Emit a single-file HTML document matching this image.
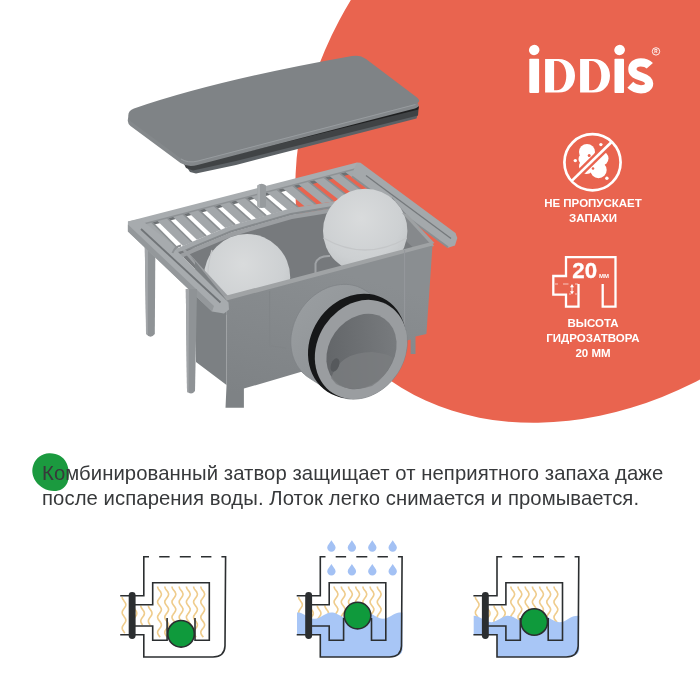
<!DOCTYPE html>
<html><head><meta charset="utf-8">
<style>
html,body{margin:0;padding:0;background:#fff;}
body{width:700px;height:700px;position:relative;overflow:hidden;font-family:"Liberation Sans",sans-serif;}
svg{position:absolute;left:0;top:0;will-change:transform;}
.para{position:absolute;left:42px;color:#37393b;will-change:transform;font-size:20.3px;letter-spacing:0.075px;white-space:nowrap;line-height:25px;}
.lbl{position:absolute;color:#fff;font-weight:bold;font-size:11.5px;will-change:transform;white-space:nowrap;text-align:center;line-height:14.8px;}
</style></head>
<body>
<svg width="700" height="700" viewBox="0 0 700 700">
<ellipse cx="613.3" cy="107.1" rx="274.2" ry="354.4" transform="rotate(45.8 613.3 107.1)" fill="#E9644F"/>
<path d="M49 453.3 C57 453 63.5 456.5 66.5 463 C69.5 469.5 69.5 477 67.5 482.5 C65 488.5 60 491 54 491 C46.5 491 39.5 487 35.5 481 C32 475.5 31.5 469.5 33.5 464.5 C36 458 42 453.5 49 453.3 Z" fill="#1B9A3F"/>

<g fill="#fff">
<ellipse cx="534.2" cy="50" rx="5.3" ry="5.1" transform="rotate(-20 534.2 50)"/><rect x="529.3" y="58.7" width="9.8" height="34.2" rx="0.8"/>
<path d="M545.1 58.9 H558.5 C568.5 58.9 575 66 575 75.7 C575 85.5 568.5 92.6 558.5 92.6 H545.1 Z M554.1 61.1 H556.5 C562.5 61.1 566.3 67.5 566.3 75.7 C566.3 84 562.5 90.3 556.5 90.3 H554.1 Z" fill-rule="evenodd"/>
<path d="M580.1 58.9 H593.5 C603.5 58.9 610 66 610 75.7 C610 85.5 603.5 92.6 593.5 92.6 H580.1 Z M589.1 61.1 H591.5 C597.5 61.1 601.3 67.5 601.3 75.7 C601.3 84 597.5 90.3 591.5 90.3 H589.1 Z" fill-rule="evenodd"/>
<ellipse cx="619.6" cy="50" rx="5.4" ry="5.1" transform="rotate(-20 619.6 50)"/><rect x="614.5" y="58.7" width="9.5" height="34.3" rx="0.8"/>
</g>
<path d="M649.8 65.8 C647.5 63.2 644.3 62.3 640.7 62.3 C635.7 62.3 632.4 65.2 632.4 69.2 C632.4 73.7 636.5 75.2 641 76.6 C646 78.1 649.1 79.7 649.1 83.6 C649.1 87.1 645.6 89.3 641 89.3 C636.8 89.3 633.3 87.8 630.3 84.8" fill="none" stroke="#fff" stroke-width="8.3"/>
<circle cx="656" cy="51.4" r="3.7" fill="none" stroke="#fff" stroke-width="0.9"/>
<text x="656" y="53.2" font-family="Liberation Sans" font-size="4.6" font-weight="bold" fill="#fff" text-anchor="middle">R</text>

<circle cx="592.5" cy="162.3" r="28.1" fill="none" stroke="#fff" stroke-width="2.7"/>
<g fill="#fff">
<circle cx="587" cy="152" r="8"/><circle cx="601.5" cy="158.5" r="7"/><circle cx="598.5" cy="170" r="8.2"/><circle cx="586.5" cy="166.5" r="7.5"/><circle cx="584" cy="159" r="5.5"/><circle cx="594" cy="162" r="7"/>
<circle cx="600.9" cy="144.6" r="1.7"/><circle cx="575.3" cy="160.6" r="1.7"/><circle cx="606.9" cy="178.3" r="1.7"/>
</g>
<circle cx="589.2" cy="155.5" r="1.5" fill="#E9644F"/><circle cx="593" cy="168.5" r="1.3" fill="#E9644F"/>
<clipPath id="cin"><circle cx="592.5" cy="162.3" r="26.7"/></clipPath><line x1="571.5" y1="181.1" x2="611.6" y2="142" stroke="#E9644F" stroke-width="7.5" clip-path="url(#cin)"/>
<line x1="571.5" y1="181.1" x2="611.6" y2="142" stroke="#fff" stroke-width="2.7"/>

<path d="M578.5 284 V306.7 H566 V294.6 H553.3 V276 H566 V257.2 H615.5 V306.7 H602.7 V284" fill="none" stroke="#fff" stroke-width="2.3"/>
<path d="M555 284 H558 M563 284 H568.5 M575 284 H578" stroke="#fff" stroke-width="0.8" opacity="0.8"/>
<path d="M569 294 H571 M575 294 H577" stroke="#fff" stroke-width="0.8" opacity="0.8"/>
<path d="M572 286 V292.5" stroke="#fff" stroke-width="0.9" fill="none"/><path d="M570 287.3 L572 284 L574 287.3 Z M570 291.2 L572 294.5 L574 291.2 Z" fill="#fff"/>
<text x="572.3" y="278" font-family="Liberation Sans" font-weight="bold" font-size="21.8" fill="#fff" stroke="#fff" stroke-width="0.3" textLength="24.8" lengthAdjust="spacingAndGlyphs">20</text>
<text x="599" y="278" font-family="Liberation Sans" font-weight="bold" font-size="5.6" fill="#fff" textLength="10" lengthAdjust="spacingAndGlyphs">ММ</text>

<path d="M186.0 166.0 L236.0 159.0 L415.0 113.0 L417.5 115.0 L416.5 118.5 L236.0 165.0 L196.0 173.5 L190.0 172.0 Z" fill="#5c6165" />
<path d="M183.0 162.0 L236.0 154.0 L416.0 108.0 L418.5 109.5 L418.0 115.5 L236.0 161.0 L193.0 170.5 L186.0 168.0 Z" fill="#404345" />
<path d="M181.0 159.0 L236.0 152.0 L416.0 105.5 L419.0 106.5 L418.5 109.5 L236.0 154.5 L183.0 162.5 Z" fill="#1f2021" />
<path d="M128.3 116.5 Q127.8 110.5 134 108.5 Q217 80 352 56 Q360 54.5 366 59 L417 97.5 Q422 101.5 415.5 104 L198 160.5 Q188 163 181 158.5 L131 121.5 Q128.5 119.5 128.3 116.5 Z" transform="translate(-0.5 4.5)" fill="#84888b"/>
<path d="M128.3 116.5 Q127.8 110.5 134 108.5 Q217 80 352 56 Q360 54.5 366 59 L417 97.5 Q422 101.5 415.5 104 L198 160.5 Q188 163 181 158.5 L131 121.5 Q128.5 119.5 128.3 116.5 Z" fill="#7f8386"/>
<path d="M181 159 Q188 163.5 198 161 L415.5 104.5" fill="none" stroke="#9a9ea1" stroke-width="0.9"/>
<path d="M144.5 228 L155.5 228 L154.8 334 Q150.5 339.5 146.2 334 Z" fill="#8f9396"/>
<path d="M144.5 228 L148 228 L147.8 334.5 Q146.5 335 146 333 Z" fill="#a3a6a9"/>
<path d="M134.0 224.8 L362.0 166.3 L362.0 171.3 L134.0 229.8 Z" fill="#6d7174" />
<path d="M140.7 224.1 L151.1 221.4 L177.8 248.2 L168.9 252.4 Z" fill="#a3a7aa" />
<path d="M151.1 221.4 L177.8 248.2" stroke="#8b8f92" stroke-width="1.6"/>
<path d="M156.4 220.1 L166.8 217.4 L192.1 242.2 L183.0 246.1 Z" fill="#a3a7aa" />
<path d="M166.8 217.4 L192.1 242.2" stroke="#8b8f92" stroke-width="1.6"/>
<path d="M172.1 216.1 L182.5 213.4 L206.2 236.1 L196.9 239.8 Z" fill="#a3a7aa" />
<path d="M182.5 213.4 L206.2 236.1" stroke="#8b8f92" stroke-width="1.6"/>
<path d="M187.8 212.0 L198.2 209.4 L220.3 230.1 L211.3 234.0 Z" fill="#a3a7aa" />
<path d="M198.2 209.4 L220.3 230.1" stroke="#8b8f92" stroke-width="1.6"/>
<path d="M203.5 208.0 L213.9 205.3 L235.2 224.8 L225.3 228.0 Z" fill="#a3a7aa" />
<path d="M213.9 205.3 L235.2 224.8" stroke="#8b8f92" stroke-width="1.6"/>
<path d="M219.2 204.0 L229.6 201.3 L250.8 220.3 L240.6 223.2 Z" fill="#a3a7aa" />
<path d="M229.6 201.3 L250.8 220.3" stroke="#8b8f92" stroke-width="1.6"/>
<path d="M234.9 199.9 L245.3 197.3 L266.4 215.8 L256.2 218.7 Z" fill="#a3a7aa" />
<path d="M245.3 197.3 L266.4 215.8" stroke="#8b8f92" stroke-width="1.6"/>
<path d="M250.6 195.9 L261.0 193.2 L281.9 211.2 L271.8 214.2 Z" fill="#a3a7aa" />
<path d="M261.0 193.2 L281.9 211.2" stroke="#8b8f92" stroke-width="1.6"/>
<path d="M266.3 191.9 L276.7 189.2 L298.4 207.5 L287.4 209.6 Z" fill="#a3a7aa" />
<path d="M276.7 189.2 L298.4 207.5" stroke="#8b8f92" stroke-width="1.6"/>
<path d="M282.0 187.8 L292.4 185.2 L315.8 204.4 L304.5 206.3 Z" fill="#a3a7aa" />
<path d="M292.4 185.2 L315.8 204.4" stroke="#8b8f92" stroke-width="1.6"/>
<path d="M297.7 183.8 L308.1 181.2 L333.2 201.4 L321.9 203.3 Z" fill="#a3a7aa" />
<path d="M308.1 181.2 L333.2 201.4" stroke="#8b8f92" stroke-width="1.6"/>
<path d="M313.4 179.8 L323.8 177.1 L351.1 198.6 L339.7 200.5 Z" fill="#a3a7aa" />
<path d="M323.8 177.1 L351.1 198.6" stroke="#8b8f92" stroke-width="1.6"/>
<path d="M329.1 175.8 L339.5 173.1 L369.0 195.8 L357.3 197.5 Z" fill="#a3a7aa" />
<path d="M339.5 173.1 L369.0 195.8" stroke="#8b8f92" stroke-width="1.6"/>
<path d="M344.8 171.7 L355.2 169.1 L386.7 192.8 L375.3 194.7 Z" fill="#a3a7aa" />
<path d="M355.2 169.1 L386.7 192.8" stroke="#8b8f92" stroke-width="1.6"/>
<path d="M127.9 221.4 L357.0 162.6 L359.0 168.5 L130.0 228.0 Z" fill="#a8acaf" />
<path d="M130 227.5 L359 168" stroke="#8e9295" stroke-width="1.5"/>
<path d="M357.0 162.6 L360.5 162.8 L455.5 233.0 L457.3 238.0 L455.0 245.5 L448.0 247.8 L352.0 177.0 L354.0 169.0 Z" fill="#a4a8ab" />
<path d="M448 247.3 L352 176.5" stroke="#8a8e91" stroke-width="1.8"/>
<path d="M451 238.5 L366 175.5" stroke="#75797c" stroke-width="1.3"/>
<path d="M168.0 252.5 L194.0 241.0 L230.0 226.0 L290.0 208.6 L333.0 201.4 L376.0 194.5 L377.0 201.0 L334.0 207.9 L291.0 215.1 L231.0 232.5 L195.0 247.5 L169.0 259.0 Z" fill="#a3a7aa" />
<path d="M169.0 258.0 L195.0 246.5 L231.0 231.5 L291.0 214.1 L334.0 206.9 L377.0 200.0" fill="none" stroke="#868a8d" stroke-width="2.2"/>
<path d="M257.4 185.5 Q261.7 182 266 185.5 L266 206.5 Q261.7 209.5 257.4 206.5 Z" fill="#979b9e"/>
<path d="M257.4 185.5 L260 184 L260 208 L257.4 206.5 Z" fill="#a9adb0"/>
<path d="M178.0 252.0 L195.0 248.0 L231.0 233.0 L291.0 215.6 L334.0 208.4 L377.0 201.5 L405.0 213.0 L433.0 243.0 L226.0 300.0 Z" fill="#777a7d" />
<path d="M392.0 197.0 L405.0 213.0 L433.0 243.0 L418.0 252.0 L396.0 232.0 Z" fill="#86898c" />
<path d="M169.0 259.0 L195.0 247.5 L231.0 232.5 L291.0 215.1 L334.0 207.9 L377.0 201.0 L378.0 205.0 L335.0 211.9 L292.0 219.1 L232.0 236.5 L196.0 251.5 L170.0 263.0 Z" fill="#9b9ea1" />
<path d="M314.5 276 L314.5 263 Q317 254 330 254.5 L348 256 L348 276 Z" fill="#76797c"/>
<path d="M315.5 275 L315.5 263.5 Q318 255.5 330 256" fill="none" stroke="#a0a3a6" stroke-width="2"/>
<defs><radialGradient id="bg1" cx="0.45" cy="0.35" r="0.75"><stop offset="0" stop-color="#d9dbdc"/><stop offset="0.65" stop-color="#cdd0d2"/><stop offset="1" stop-color="#bdc0c2"/></radialGradient></defs>
<circle cx="247" cy="277.2" r="43.2" fill="url(#bg1)"/>
<path d="M212 250 Q200 290 222 316" fill="none" stroke="#c6c8ca" stroke-width="1.2"/>
<circle cx="365.2" cy="231" r="42.2" fill="url(#bg1)"/>
<path d="M323.5 238 Q365 262 406.8 238" fill="none" stroke="#c4c6c8" stroke-width="1.4"/>
<path d="M182.0 250.0 L186.0 250.0 L229.0 297.0 L225.0 299.5 Z" fill="#9c9fa2" />
<path d="M223.0 296.5 L431.5 242.0 L434.0 246.0 L226.5 301.5 Z" fill="#a0a3a5" />
<path d="M402.0 213.0 L407.0 214.0 L434.5 243.0 L431.0 244.5 Z" fill="#9ea1a3" />
<path d="M190.0 255.0 L226.5 300.0 L226.5 385.0 L196.0 362.0 L195.0 262.0 Z" fill="#7c8083" />
<defs><linearGradient id="ff" gradientUnits="userSpaceOnUse" x1="300" y1="260" x2="260" y2="400"><stop offset="0" stop-color="#8a8e91"/><stop offset="1" stop-color="#7e8285"/></linearGradient></defs>
<path d="M226.5 300.5 L432.5 245.5 L426.4 334.0 L415.5 336.5 L415.5 354.0 L410.6 354.0 L410.6 339.5 L243.9 388.6 L243.9 407.8 L225.5 407.8 L226.5 386.0 Z" fill="url(#ff)" />
<path d="M269.6 291 L269.6 345.7 L286 348" fill="none" stroke="#818588" stroke-width="1.1"/>
<path d="M404.6 250 L404.6 340" stroke="#96999c" stroke-width="1"/>
<defs><linearGradient id="pb" x1="0" y1="0" x2="1" y2="1"><stop offset="0" stop-color="#9b9fa2"/><stop offset="0.55" stop-color="#909497"/><stop offset="1" stop-color="#85898c"/></linearGradient></defs>
<path d="M290.8 341.8 L290.9 338.5 L291.2 335.3 L291.8 332.0 L292.5 328.8 L293.4 325.6 L294.4 322.4 L295.7 319.3 L297.1 316.2 L298.7 313.2 L300.5 310.3 L302.4 307.5 L304.5 304.8 L306.7 302.3 L309.1 299.8 L311.6 297.5 L314.1 295.4 L316.8 293.5 L319.6 291.7 L322.4 290.1 L325.3 288.7 L328.2 287.4 L331.2 286.4 L334.2 285.6 L337.3 285.0 L340.3 284.6 L343.3 284.4 L346.3 284.4 L349.2 284.6 L352.1 285.1 L354.9 285.7 L357.7 286.6 L360.3 287.7 L362.9 288.9 L365.3 290.4 L389.3 305.9 L391.6 307.5 L393.8 309.4 L395.9 311.3 L397.8 313.5 L399.5 315.8 L401.1 318.3 L402.5 320.9 L403.8 323.6 L404.8 326.4 L405.7 329.3 L406.3 332.3 L406.8 335.4 L407.1 338.6 L407.2 341.7 L407.1 345.0 L406.8 348.2 L406.2 351.5 L405.5 354.7 L404.6 357.9 L403.6 361.1 L402.3 364.2 L400.9 367.3 L399.3 370.3 L397.5 373.2 L395.6 376.0 L393.5 378.7 L391.3 381.2 L388.9 383.7 L386.4 386.0 L383.9 388.1 L381.2 390.0 L378.4 391.8 L375.6 393.4 L372.7 394.8 L369.8 396.1 L366.8 397.1 L363.8 397.9 L360.7 398.5 L357.7 398.9 L354.7 399.1 L351.7 399.1 L348.8 398.9 L345.9 398.4 L343.1 397.8 L340.3 396.9 L337.7 395.8 L335.1 394.6 L332.7 393.1 L308.7 377.6 L306.4 376.0 L304.2 374.1 L302.1 372.2 L300.2 370.0 L298.5 367.7 L296.9 365.2 L295.5 362.6 L294.2 359.9 L293.2 357.1 L292.3 354.2 L291.7 351.2 L291.2 348.1 L290.9 344.9 Z" fill="url(#pb)" stroke="#7f8386" stroke-width="0.8"/>
<ellipse cx="357" cy="346" rx="54.5" ry="46.5" transform="rotate(-57 357 346)" fill="#161718"/>
<ellipse cx="361" cy="349.5" rx="52" ry="43.5" transform="rotate(-57 361 349.5)" fill="#9a9da0"/>
<defs><linearGradient id="ph" x1="0" y1="0" x2="1" y2="1"><stop offset="0" stop-color="#5f6265"/><stop offset="0.5" stop-color="#6d7073"/><stop offset="1" stop-color="#7c7f82"/></linearGradient></defs>
<ellipse cx="361.5" cy="351.5" rx="40" ry="32.5" transform="rotate(-55 361.5 351.5)" fill="url(#ph)"/>
<path d="M331 378 Q340 352 372 352 Q390 354 393 358 Q388 376 372 386 Q352 393 336 384 Z" fill="#7a7d80" opacity="0.8"/>
<ellipse cx="335" cy="365" rx="4" ry="7" transform="rotate(20 335 365)" fill="#56595c"/>
<path d="M127.9 221.4 L140.0 219.0 L172.0 244.0 L175.0 249.0 L228.5 302.5 L229.0 309.5 L224.0 313.5 L212.0 311.5 L127.9 231.5 Z" fill="#a7abae" />
<path d="M172.5 253 Q175 246.5 181 245.5" stroke="#8c9093" stroke-width="2" fill="none"/>
<path d="M127.9 224.5 L127.9 231.5 L212.0 311.5 L214.0 306.0 Z" fill="#94989b" />
<path d="M141 229 L220.5 302.5" stroke="#707477" stroke-width="1.8"/>
<path d="M185.8 289 L197 289 L195 391 Q191 396 187 391 Z" fill="#8f9396"/>
<path d="M185.8 289 L189 289 L188.5 393 Q187.3 393 187 391 Z" fill="#a3a6a9"/>
<g transform="translate(0.0 0)">
<path d="M157.6 586.6 C157.6 586.8 157.7 587.5 157.9 587.9 C158.0 588.3 158.3 588.7 158.5 589.1 C158.8 589.6 159.2 590.0 159.5 590.4 C159.8 590.9 160.2 591.3 160.5 591.7 C160.7 592.1 161.0 592.6 161.1 593.0 C161.3 593.4 161.4 593.8 161.4 594.2 C161.4 594.7 161.3 595.1 161.1 595.5 C161.0 596.0 160.7 596.4 160.4 596.8 C160.2 597.2 159.8 597.7 159.5 598.1 C159.2 598.5 158.8 598.9 158.6 599.4 C158.3 599.8 158.0 600.2 157.9 600.6 C157.7 601.0 157.6 601.5 157.6 601.9 C157.6 602.3 157.7 602.8 157.9 603.2 C158.0 603.6 158.3 604.0 158.6 604.5 C158.8 604.9 159.2 605.3 159.5 605.7 C159.8 606.1 160.2 606.6 160.4 607.0 C160.7 607.4 161.0 607.8 161.1 608.3 C161.3 608.7 161.4 609.1 161.4 609.6 C161.4 610.0 161.3 610.4 161.1 610.8 C161.0 611.2 160.7 611.7 160.4 612.1 C160.2 612.5 159.8 613.0 159.5 613.4 C159.2 613.8 158.8 614.2 158.6 614.6 C158.3 615.1 158.0 615.5 157.9 615.9 C157.7 616.4 157.6 616.8 157.6 617.2 C157.6 617.6 157.7 618.1 157.9 618.5 C158.0 618.9 158.3 619.3 158.5 619.8 C158.8 620.2 159.2 620.6 159.5 621.0 C159.8 621.5 160.2 621.9 160.5 622.3 C160.7 622.7 161.0 623.2 161.1 623.6 C161.3 624.0 161.4 624.4 161.4 624.9 C161.4 625.3 161.3 625.7 161.1 626.1 C161.0 626.5 160.7 627.0 160.5 627.4 C160.2 627.8 159.8 628.2 159.5 628.7 C159.2 629.1 158.8 629.5 158.5 630.0 C158.3 630.4 158.0 630.8 157.9 631.2 C157.7 631.6 157.6 632.1 157.6 632.5 C157.6 632.9 157.7 633.3 157.9 633.8 C158.0 634.2 158.3 634.6 158.6 635.1 C158.8 635.5 159.2 636.0 159.5 636.3 C159.8 636.7 160.1 637.1 160.2 637.2 M164.8 586.6 C164.8 586.8 164.9 587.5 165.1 587.9 C165.2 588.3 165.5 588.7 165.7 589.1 C166.0 589.6 166.4 590.0 166.7 590.4 C167.0 590.9 167.4 591.3 167.7 591.7 C167.9 592.1 168.2 592.6 168.3 593.0 C168.5 593.4 168.6 593.8 168.6 594.2 C168.6 594.7 168.5 595.1 168.3 595.5 C168.2 596.0 167.9 596.4 167.6 596.8 C167.4 597.2 167.0 597.7 166.7 598.1 C166.4 598.5 166.0 598.9 165.8 599.4 C165.5 599.8 165.2 600.2 165.1 600.6 C164.9 601.0 164.8 601.5 164.8 601.9 C164.8 602.3 164.9 602.8 165.1 603.2 C165.2 603.6 165.5 604.0 165.8 604.5 C166.0 604.9 166.4 605.3 166.7 605.7 C167.0 606.1 167.4 606.6 167.6 607.0 C167.9 607.4 168.2 607.8 168.3 608.3 C168.5 608.7 168.6 609.1 168.6 609.6 C168.6 610.0 168.5 610.4 168.3 610.8 C168.2 611.2 167.9 611.7 167.6 612.1 C167.4 612.5 167.0 613.0 166.7 613.4 C166.4 613.8 166.0 614.2 165.8 614.6 C165.5 615.1 165.2 615.5 165.1 615.9 C164.9 616.4 164.8 616.8 164.8 617.2 C164.8 617.6 164.9 618.1 165.1 618.5 C165.2 618.9 165.5 619.3 165.7 619.8 C166.0 620.2 166.4 620.6 166.7 621.0 C167.0 621.5 167.4 621.9 167.7 622.3 C167.9 622.7 168.2 623.2 168.3 623.6 C168.5 624.0 168.6 624.4 168.6 624.9 C168.6 625.3 168.5 625.7 168.3 626.1 C168.2 626.5 167.9 627.0 167.7 627.4 C167.4 627.8 167.0 628.2 166.7 628.7 C166.4 629.1 166.0 629.5 165.7 630.0 C165.5 630.4 165.2 630.8 165.1 631.2 C164.9 631.6 164.8 632.1 164.8 632.5 C164.8 632.9 164.9 633.3 165.1 633.8 C165.2 634.2 165.5 634.6 165.8 635.1 C166.0 635.5 166.4 636.0 166.7 636.3 C167.0 636.7 167.3 637.1 167.4 637.2 M172.0 586.6 C172.0 586.8 172.1 587.5 172.3 587.9 C172.4 588.3 172.7 588.7 172.9 589.1 C173.2 589.6 173.6 590.0 173.9 590.4 C174.2 590.9 174.6 591.3 174.9 591.7 C175.1 592.1 175.4 592.6 175.5 593.0 C175.7 593.4 175.8 593.8 175.8 594.2 C175.8 594.7 175.7 595.1 175.5 595.5 C175.4 596.0 175.1 596.4 174.8 596.8 C174.6 597.2 174.2 597.7 173.9 598.1 C173.6 598.5 173.2 598.9 173.0 599.4 C172.7 599.8 172.4 600.2 172.3 600.6 C172.1 601.0 172.0 601.5 172.0 601.9 C172.0 602.3 172.1 602.8 172.3 603.2 C172.4 603.6 172.7 604.0 173.0 604.5 C173.2 604.9 173.6 605.3 173.9 605.7 C174.2 606.1 174.6 606.6 174.8 607.0 C175.1 607.4 175.4 607.8 175.5 608.3 C175.7 608.7 175.8 609.1 175.8 609.6 C175.8 610.0 175.7 610.4 175.5 610.8 C175.4 611.2 175.1 611.7 174.8 612.1 C174.6 612.5 174.2 613.0 173.9 613.4 C173.6 613.8 173.2 614.2 173.0 614.6 C172.7 615.1 172.4 615.5 172.3 615.9 C172.1 616.4 172.0 616.8 172.0 617.2 C172.0 617.6 172.1 618.1 172.3 618.5 C172.4 618.9 172.7 619.3 172.9 619.8 C173.2 620.2 173.6 620.6 173.9 621.0 C174.2 621.5 174.6 621.9 174.9 622.3 C175.1 622.7 175.4 623.2 175.5 623.6 C175.7 624.0 175.8 624.4 175.8 624.9 C175.8 625.3 175.7 625.7 175.5 626.1 C175.4 626.5 175.1 627.0 174.9 627.4 C174.6 627.8 174.2 628.2 173.9 628.7 C173.6 629.1 173.2 629.5 172.9 630.0 C172.7 630.4 172.4 630.8 172.3 631.2 C172.1 631.6 172.0 632.1 172.0 632.5 C172.0 632.9 172.1 633.3 172.3 633.8 C172.4 634.2 172.7 634.6 173.0 635.1 C173.2 635.5 173.6 636.0 173.9 636.3 C174.2 636.7 174.5 637.1 174.6 637.2 M179.2 586.6 C179.2 586.8 179.3 587.5 179.5 587.9 C179.6 588.3 179.9 588.7 180.1 589.1 C180.4 589.6 180.8 590.0 181.1 590.4 C181.4 590.9 181.8 591.3 182.1 591.7 C182.3 592.1 182.6 592.6 182.7 593.0 C182.9 593.4 183.0 593.8 183.0 594.2 C183.0 594.7 182.9 595.1 182.7 595.5 C182.6 596.0 182.3 596.4 182.0 596.8 C181.8 597.2 181.4 597.7 181.1 598.1 C180.8 598.5 180.4 598.9 180.2 599.4 C179.9 599.8 179.6 600.2 179.5 600.6 C179.3 601.0 179.2 601.5 179.2 601.9 C179.2 602.3 179.3 602.8 179.5 603.2 C179.6 603.6 179.9 604.0 180.2 604.5 C180.4 604.9 180.8 605.3 181.1 605.7 C181.4 606.1 181.8 606.6 182.0 607.0 C182.3 607.4 182.6 607.8 182.7 608.3 C182.9 608.7 183.0 609.1 183.0 609.6 C183.0 610.0 182.9 610.4 182.7 610.8 C182.6 611.2 182.3 611.7 182.0 612.1 C181.8 612.5 181.4 613.0 181.1 613.4 C180.8 613.8 180.4 614.2 180.2 614.6 C179.9 615.1 179.6 615.5 179.5 615.9 C179.3 616.4 179.2 616.8 179.2 617.2 C179.2 617.6 179.3 618.1 179.5 618.5 C179.6 618.9 179.9 619.3 180.1 619.8 C180.4 620.2 180.8 620.6 181.1 621.0 C181.4 621.5 181.8 621.9 182.1 622.3 C182.3 622.7 182.6 623.2 182.7 623.6 C182.9 624.0 183.0 624.4 183.0 624.9 C183.0 625.3 182.9 625.7 182.7 626.1 C182.6 626.5 182.3 627.0 182.1 627.4 C181.8 627.8 181.4 628.2 181.1 628.7 C180.8 629.1 180.4 629.5 180.1 630.0 C179.9 630.4 179.6 630.8 179.5 631.2 C179.3 631.6 179.2 632.1 179.2 632.5 C179.2 632.9 179.3 633.3 179.5 633.8 C179.6 634.2 179.9 634.6 180.2 635.1 C180.4 635.5 180.8 636.0 181.1 636.3 C181.4 636.7 181.7 637.1 181.8 637.2 M186.4 586.6 C186.4 586.8 186.5 587.5 186.7 587.9 C186.8 588.3 187.1 588.7 187.3 589.1 C187.6 589.6 188.0 590.0 188.3 590.4 C188.6 590.9 189.0 591.3 189.3 591.7 C189.5 592.1 189.8 592.6 189.9 593.0 C190.1 593.4 190.2 593.8 190.2 594.2 C190.2 594.7 190.1 595.1 189.9 595.5 C189.8 596.0 189.5 596.4 189.2 596.8 C189.0 597.2 188.6 597.7 188.3 598.1 C188.0 598.5 187.6 598.9 187.4 599.4 C187.1 599.8 186.8 600.2 186.7 600.6 C186.5 601.0 186.4 601.5 186.4 601.9 C186.4 602.3 186.5 602.8 186.7 603.2 C186.8 603.6 187.1 604.0 187.4 604.5 C187.6 604.9 188.0 605.3 188.3 605.7 C188.6 606.1 189.0 606.6 189.2 607.0 C189.5 607.4 189.8 607.8 189.9 608.3 C190.1 608.7 190.2 609.1 190.2 609.6 C190.2 610.0 190.1 610.4 189.9 610.8 C189.8 611.2 189.5 611.7 189.2 612.1 C189.0 612.5 188.6 613.0 188.3 613.4 C188.0 613.8 187.6 614.2 187.4 614.6 C187.1 615.1 186.8 615.5 186.7 615.9 C186.5 616.4 186.4 616.8 186.4 617.2 C186.4 617.6 186.5 618.1 186.7 618.5 C186.8 618.9 187.1 619.3 187.3 619.8 C187.6 620.2 188.0 620.6 188.3 621.0 C188.6 621.5 189.0 621.9 189.3 622.3 C189.5 622.7 189.8 623.2 189.9 623.6 C190.1 624.0 190.2 624.4 190.2 624.9 C190.2 625.3 190.1 625.7 189.9 626.1 C189.8 626.5 189.5 627.0 189.3 627.4 C189.0 627.8 188.6 628.2 188.3 628.7 C188.0 629.1 187.6 629.5 187.3 630.0 C187.1 630.4 186.8 630.8 186.7 631.2 C186.5 631.6 186.4 632.1 186.4 632.5 C186.4 632.9 186.5 633.3 186.7 633.8 C186.8 634.2 187.1 634.6 187.4 635.1 C187.6 635.5 188.0 636.0 188.3 636.3 C188.6 636.7 188.9 637.1 189.0 637.2 M193.6 586.6 C193.6 586.8 193.7 587.5 193.9 587.9 C194.0 588.3 194.3 588.7 194.5 589.1 C194.8 589.6 195.2 590.0 195.5 590.4 C195.8 590.9 196.2 591.3 196.5 591.7 C196.7 592.1 197.0 592.6 197.1 593.0 C197.3 593.4 197.4 593.8 197.4 594.2 C197.4 594.7 197.3 595.1 197.1 595.5 C197.0 596.0 196.7 596.4 196.4 596.8 C196.2 597.2 195.8 597.7 195.5 598.1 C195.2 598.5 194.8 598.9 194.6 599.4 C194.3 599.8 194.0 600.2 193.9 600.6 C193.7 601.0 193.6 601.5 193.6 601.9 C193.6 602.3 193.7 602.8 193.9 603.2 C194.0 603.6 194.3 604.0 194.6 604.5 C194.8 604.9 195.2 605.3 195.5 605.7 C195.8 606.1 196.2 606.6 196.4 607.0 C196.7 607.4 197.0 607.8 197.1 608.3 C197.3 608.7 197.4 609.1 197.4 609.6 C197.4 610.0 197.3 610.4 197.1 610.8 C197.0 611.2 196.7 611.7 196.4 612.1 C196.2 612.5 195.8 613.0 195.5 613.4 C195.2 613.8 194.8 614.2 194.6 614.6 C194.3 615.1 194.0 615.5 193.9 615.9 C193.7 616.4 193.6 616.8 193.6 617.2 C193.6 617.6 193.7 618.1 193.9 618.5 C194.0 618.9 194.3 619.3 194.5 619.8 C194.8 620.2 195.2 620.6 195.5 621.0 C195.8 621.5 196.2 621.9 196.5 622.3 C196.7 622.7 197.0 623.2 197.1 623.6 C197.3 624.0 197.4 624.4 197.4 624.9 C197.4 625.3 197.3 625.7 197.1 626.1 C197.0 626.5 196.7 627.0 196.5 627.4 C196.2 627.8 195.8 628.2 195.5 628.7 C195.2 629.1 194.8 629.5 194.5 630.0 C194.3 630.4 194.0 630.8 193.9 631.2 C193.7 631.6 193.6 632.1 193.6 632.5 C193.6 632.9 193.7 633.3 193.9 633.8 C194.0 634.2 194.3 634.6 194.6 635.1 C194.8 635.5 195.2 636.0 195.5 636.3 C195.8 636.7 196.1 637.1 196.2 637.2 M200.8 586.6 C200.8 586.8 200.9 587.5 201.1 587.9 C201.2 588.3 201.5 588.7 201.7 589.1 C202.0 589.6 202.4 590.0 202.7 590.4 C203.0 590.9 203.4 591.3 203.7 591.7 C203.9 592.1 204.2 592.6 204.3 593.0 C204.5 593.4 204.6 593.8 204.6 594.2 C204.6 594.7 204.5 595.1 204.3 595.5 C204.2 596.0 203.9 596.4 203.6 596.8 C203.4 597.2 203.0 597.7 202.7 598.1 C202.4 598.5 202.0 598.9 201.8 599.4 C201.5 599.8 201.2 600.2 201.1 600.6 C200.9 601.0 200.8 601.5 200.8 601.9 C200.8 602.3 200.9 602.8 201.1 603.2 C201.2 603.6 201.5 604.0 201.8 604.5 C202.0 604.9 202.4 605.3 202.7 605.7 C203.0 606.1 203.4 606.6 203.6 607.0 C203.9 607.4 204.2 607.8 204.3 608.3 C204.5 608.7 204.6 609.1 204.6 609.6 C204.6 610.0 204.5 610.4 204.3 610.8 C204.2 611.2 203.9 611.7 203.6 612.1 C203.4 612.5 203.0 613.0 202.7 613.4 C202.4 613.8 202.0 614.2 201.8 614.6 C201.5 615.1 201.2 615.5 201.1 615.9 C200.9 616.4 200.8 616.8 200.8 617.2 C200.8 617.6 200.9 618.1 201.1 618.5 C201.2 618.9 201.5 619.3 201.7 619.8 C202.0 620.2 202.4 620.6 202.7 621.0 C203.0 621.5 203.4 621.9 203.7 622.3 C203.9 622.7 204.2 623.2 204.3 623.6 C204.5 624.0 204.6 624.4 204.6 624.9 C204.6 625.3 204.5 625.7 204.3 626.1 C204.2 626.5 203.9 627.0 203.7 627.4 C203.4 627.8 203.0 628.2 202.7 628.7 C202.4 629.1 202.0 629.5 201.7 630.0 C201.5 630.4 201.2 630.8 201.1 631.2 C200.9 631.6 200.8 632.1 200.8 632.5 C200.8 632.9 200.9 633.3 201.1 633.8 C201.2 634.2 201.5 634.6 201.8 635.1 C202.0 635.5 202.4 636.0 202.7 636.3 C203.0 636.7 203.3 637.1 203.4 637.2 M133.2 605.6 C133.2 605.8 133.3 606.5 133.4 606.9 C133.6 607.3 133.8 607.8 134.1 608.2 C134.4 608.6 134.7 609.0 135.0 609.5 C135.3 609.9 135.6 610.3 135.9 610.8 C136.2 611.2 136.4 611.6 136.6 612.1 C136.7 612.5 136.8 612.9 136.8 613.4 C136.8 613.8 136.7 614.2 136.6 614.6 C136.4 615.1 136.2 615.5 135.9 615.9 C135.6 616.4 135.3 616.8 135.0 617.2 C134.7 617.7 134.4 618.1 134.1 618.5 C133.8 618.9 133.6 619.4 133.4 619.8 C133.3 620.2 133.2 620.7 133.2 621.1 C133.2 621.5 133.3 622.0 133.4 622.4 C133.6 622.8 133.8 623.3 134.1 623.7 C134.4 624.1 134.8 624.8 135.0 625.0 M140.8 605.6 C140.8 605.8 140.9 606.5 141.0 606.9 C141.2 607.3 141.4 607.8 141.7 608.2 C142.0 608.6 142.3 609.0 142.6 609.5 C142.9 609.9 143.2 610.3 143.5 610.8 C143.8 611.2 144.0 611.6 144.2 612.1 C144.3 612.5 144.4 612.9 144.4 613.4 C144.4 613.8 144.3 614.2 144.2 614.6 C144.0 615.1 143.8 615.5 143.5 615.9 C143.2 616.4 142.9 616.8 142.6 617.2 C142.3 617.7 142.0 618.1 141.7 618.5 C141.4 618.9 141.2 619.4 141.0 619.8 C140.9 620.2 140.8 620.7 140.8 621.1 C140.8 621.5 140.9 622.0 141.0 622.4 C141.2 622.8 141.4 623.3 141.7 623.7 C142.0 624.1 142.4 624.8 142.6 625.0 M148.4 605.6 C148.4 605.8 148.5 606.5 148.6 606.9 C148.8 607.3 149.0 607.8 149.3 608.2 C149.6 608.6 149.9 609.0 150.2 609.5 C150.5 609.9 150.8 610.3 151.1 610.8 C151.4 611.2 151.6 611.6 151.8 612.1 C151.9 612.5 152.0 612.9 152.0 613.4 C152.0 613.8 151.9 614.2 151.8 614.6 C151.6 615.1 151.4 615.5 151.1 615.9 C150.8 616.4 150.5 616.8 150.2 617.2 C149.9 617.7 149.6 618.1 149.3 618.5 C149.0 618.9 148.8 619.4 148.6 619.8 C148.5 620.2 148.4 620.7 148.4 621.1 C148.4 621.5 148.5 622.0 148.6 622.4 C148.8 622.8 149.0 623.3 149.3 623.7 C149.6 624.1 150.0 624.8 150.2 625.0 M122.2 597.0 C122.2 597.2 122.3 597.9 122.4 598.3 C122.6 598.7 122.8 599.2 123.1 599.6 C123.4 600.0 123.7 600.4 124.0 600.9 C124.3 601.3 124.6 601.7 124.9 602.2 C125.2 602.6 125.4 603.0 125.6 603.5 C125.7 603.9 125.8 604.3 125.8 604.8 C125.8 605.2 125.7 605.6 125.6 606.0 C125.4 606.5 125.2 606.9 124.9 607.3 C124.6 607.8 124.3 608.2 124.0 608.6 C123.7 609.1 123.4 609.5 123.1 609.9 C122.8 610.3 122.6 610.8 122.4 611.2 C122.3 611.6 122.2 612.1 122.2 612.5 C122.2 612.9 122.3 613.4 122.4 613.8 C122.6 614.2 122.8 614.7 123.1 615.1 C123.4 615.5 123.7 615.9 124.0 616.4 C124.3 616.8 124.6 617.2 124.9 617.7 C125.2 618.1 125.4 618.5 125.6 619.0 C125.7 619.4 125.8 619.8 125.8 620.2 C125.8 620.7 125.7 621.1 125.6 621.5 C125.4 622.0 125.2 622.4 124.9 622.8 C124.6 623.3 124.3 623.7 124.0 624.1 C123.7 624.6 123.4 625.0 123.1 625.4 C122.8 625.8 122.6 626.3 122.4 626.7 C122.3 627.1 122.2 627.6 122.2 628.0 C122.2 628.4 122.3 628.9 122.4 629.3 C122.6 629.7 122.8 630.2 123.1 630.6 C123.4 631.0 123.7 631.4 124.0 631.9 C124.3 632.3 124.7 633.0 124.9 633.2" fill="none" stroke="#EFCC8C" stroke-width="1.65"/>
<path d="M120.2 595.7 H143.8 V556.7 H149 M159.2 556.7 H169.6 M179.8 556.7 H190.8 M201 556.7 H211.4 M221.4 556.7 H225.6 L225 646 Q224.5 657 213 657 H143.8 V634.7 H120.2" fill="none" stroke="#2b2e30" stroke-width="1.6"/>
<path d="M135 604.8 H152.7 V582.7 H209.3 V640.2 H195.0 V618 M167.1 618 V640.2 H152.7 V626 H135" fill="none" stroke="#2b2e30" stroke-width="1.6"/>
<circle cx="181.05" cy="633.8" r="13.3" fill="#0F9A3C" stroke="#2b2e30" stroke-width="1.6"/>
<rect x="128.7" y="591.9" width="6.9" height="47.1" rx="3.45" fill="#2b2e30"/>
</g>
<g transform="translate(176.5 0)">
<path d="M157.6 586.6 C157.6 586.8 157.7 587.5 157.9 587.9 C158.0 588.3 158.3 588.7 158.5 589.1 C158.8 589.6 159.2 590.0 159.5 590.4 C159.8 590.9 160.2 591.3 160.5 591.7 C160.7 592.1 161.0 592.6 161.1 593.0 C161.3 593.4 161.4 593.8 161.4 594.2 C161.4 594.7 161.3 595.1 161.1 595.5 C161.0 596.0 160.7 596.4 160.4 596.8 C160.2 597.2 159.8 597.7 159.5 598.1 C159.2 598.5 158.8 598.9 158.6 599.4 C158.3 599.8 158.0 600.2 157.9 600.6 C157.7 601.0 157.6 601.5 157.6 601.9 C157.6 602.3 157.7 602.8 157.9 603.2 C158.0 603.6 158.3 604.0 158.6 604.5 C158.8 604.9 159.2 605.3 159.5 605.7 C159.8 606.1 160.2 606.6 160.4 607.0 C160.7 607.4 161.0 607.8 161.1 608.3 C161.3 608.7 161.4 609.1 161.4 609.6 C161.4 610.0 161.3 610.4 161.1 610.8 C161.0 611.2 160.7 611.7 160.4 612.1 C160.2 612.5 159.8 613.0 159.5 613.4 C159.2 613.8 158.8 614.2 158.6 614.6 C158.3 615.1 158.0 615.5 157.9 615.9 C157.7 616.4 157.6 616.8 157.6 617.2 C157.6 617.6 157.7 618.1 157.9 618.5 C158.0 618.9 158.3 619.3 158.5 619.8 C158.8 620.2 159.2 620.6 159.5 621.0 C159.8 621.5 160.2 621.9 160.5 622.3 C160.7 622.7 161.0 623.2 161.1 623.6 C161.3 624.0 161.4 624.4 161.4 624.9 C161.4 625.3 161.3 625.7 161.1 626.1 C161.0 626.5 160.7 627.0 160.5 627.4 C160.2 627.8 159.8 628.2 159.5 628.7 C159.2 629.1 158.8 629.5 158.5 630.0 C158.3 630.4 158.0 630.8 157.9 631.2 C157.7 631.6 157.6 632.1 157.6 632.5 C157.6 632.9 157.7 633.3 157.9 633.8 C158.0 634.2 158.3 634.6 158.6 635.1 C158.8 635.5 159.2 636.0 159.5 636.3 C159.8 636.7 160.1 637.1 160.2 637.2 M164.8 586.6 C164.8 586.8 164.9 587.5 165.1 587.9 C165.2 588.3 165.5 588.7 165.7 589.1 C166.0 589.6 166.4 590.0 166.7 590.4 C167.0 590.9 167.4 591.3 167.7 591.7 C167.9 592.1 168.2 592.6 168.3 593.0 C168.5 593.4 168.6 593.8 168.6 594.2 C168.6 594.7 168.5 595.1 168.3 595.5 C168.2 596.0 167.9 596.4 167.6 596.8 C167.4 597.2 167.0 597.7 166.7 598.1 C166.4 598.5 166.0 598.9 165.8 599.4 C165.5 599.8 165.2 600.2 165.1 600.6 C164.9 601.0 164.8 601.5 164.8 601.9 C164.8 602.3 164.9 602.8 165.1 603.2 C165.2 603.6 165.5 604.0 165.8 604.5 C166.0 604.9 166.4 605.3 166.7 605.7 C167.0 606.1 167.4 606.6 167.6 607.0 C167.9 607.4 168.2 607.8 168.3 608.3 C168.5 608.7 168.6 609.1 168.6 609.6 C168.6 610.0 168.5 610.4 168.3 610.8 C168.2 611.2 167.9 611.7 167.6 612.1 C167.4 612.5 167.0 613.0 166.7 613.4 C166.4 613.8 166.0 614.2 165.8 614.6 C165.5 615.1 165.2 615.5 165.1 615.9 C164.9 616.4 164.8 616.8 164.8 617.2 C164.8 617.6 164.9 618.1 165.1 618.5 C165.2 618.9 165.5 619.3 165.7 619.8 C166.0 620.2 166.4 620.6 166.7 621.0 C167.0 621.5 167.4 621.9 167.7 622.3 C167.9 622.7 168.2 623.2 168.3 623.6 C168.5 624.0 168.6 624.4 168.6 624.9 C168.6 625.3 168.5 625.7 168.3 626.1 C168.2 626.5 167.9 627.0 167.7 627.4 C167.4 627.8 167.0 628.2 166.7 628.7 C166.4 629.1 166.0 629.5 165.7 630.0 C165.5 630.4 165.2 630.8 165.1 631.2 C164.9 631.6 164.8 632.1 164.8 632.5 C164.8 632.9 164.9 633.3 165.1 633.8 C165.2 634.2 165.5 634.6 165.8 635.1 C166.0 635.5 166.4 636.0 166.7 636.3 C167.0 636.7 167.3 637.1 167.4 637.2 M172.0 586.6 C172.0 586.8 172.1 587.5 172.3 587.9 C172.4 588.3 172.7 588.7 172.9 589.1 C173.2 589.6 173.6 590.0 173.9 590.4 C174.2 590.9 174.6 591.3 174.9 591.7 C175.1 592.1 175.4 592.6 175.5 593.0 C175.7 593.4 175.8 593.8 175.8 594.2 C175.8 594.7 175.7 595.1 175.5 595.5 C175.4 596.0 175.1 596.4 174.8 596.8 C174.6 597.2 174.2 597.7 173.9 598.1 C173.6 598.5 173.2 598.9 173.0 599.4 C172.7 599.8 172.4 600.2 172.3 600.6 C172.1 601.0 172.0 601.5 172.0 601.9 C172.0 602.3 172.1 602.8 172.3 603.2 C172.4 603.6 172.7 604.0 173.0 604.5 C173.2 604.9 173.6 605.3 173.9 605.7 C174.2 606.1 174.6 606.6 174.8 607.0 C175.1 607.4 175.4 607.8 175.5 608.3 C175.7 608.7 175.8 609.1 175.8 609.6 C175.8 610.0 175.7 610.4 175.5 610.8 C175.4 611.2 175.1 611.7 174.8 612.1 C174.6 612.5 174.2 613.0 173.9 613.4 C173.6 613.8 173.2 614.2 173.0 614.6 C172.7 615.1 172.4 615.5 172.3 615.9 C172.1 616.4 172.0 616.8 172.0 617.2 C172.0 617.6 172.1 618.1 172.3 618.5 C172.4 618.9 172.7 619.3 172.9 619.8 C173.2 620.2 173.6 620.6 173.9 621.0 C174.2 621.5 174.6 621.9 174.9 622.3 C175.1 622.7 175.4 623.2 175.5 623.6 C175.7 624.0 175.8 624.4 175.8 624.9 C175.8 625.3 175.7 625.7 175.5 626.1 C175.4 626.5 175.1 627.0 174.9 627.4 C174.6 627.8 174.2 628.2 173.9 628.7 C173.6 629.1 173.2 629.5 172.9 630.0 C172.7 630.4 172.4 630.8 172.3 631.2 C172.1 631.6 172.0 632.1 172.0 632.5 C172.0 632.9 172.1 633.3 172.3 633.8 C172.4 634.2 172.7 634.6 173.0 635.1 C173.2 635.5 173.6 636.0 173.9 636.3 C174.2 636.7 174.5 637.1 174.6 637.2 M179.2 586.6 C179.2 586.8 179.3 587.5 179.5 587.9 C179.6 588.3 179.9 588.7 180.1 589.1 C180.4 589.6 180.8 590.0 181.1 590.4 C181.4 590.9 181.8 591.3 182.1 591.7 C182.3 592.1 182.6 592.6 182.7 593.0 C182.9 593.4 183.0 593.8 183.0 594.2 C183.0 594.7 182.9 595.1 182.7 595.5 C182.6 596.0 182.3 596.4 182.0 596.8 C181.8 597.2 181.4 597.7 181.1 598.1 C180.8 598.5 180.4 598.9 180.2 599.4 C179.9 599.8 179.6 600.2 179.5 600.6 C179.3 601.0 179.2 601.5 179.2 601.9 C179.2 602.3 179.3 602.8 179.5 603.2 C179.6 603.6 179.9 604.0 180.2 604.5 C180.4 604.9 180.8 605.3 181.1 605.7 C181.4 606.1 181.8 606.6 182.0 607.0 C182.3 607.4 182.6 607.8 182.7 608.3 C182.9 608.7 183.0 609.1 183.0 609.6 C183.0 610.0 182.9 610.4 182.7 610.8 C182.6 611.2 182.3 611.7 182.0 612.1 C181.8 612.5 181.4 613.0 181.1 613.4 C180.8 613.8 180.4 614.2 180.2 614.6 C179.9 615.1 179.6 615.5 179.5 615.9 C179.3 616.4 179.2 616.8 179.2 617.2 C179.2 617.6 179.3 618.1 179.5 618.5 C179.6 618.9 179.9 619.3 180.1 619.8 C180.4 620.2 180.8 620.6 181.1 621.0 C181.4 621.5 181.8 621.9 182.1 622.3 C182.3 622.7 182.6 623.2 182.7 623.6 C182.9 624.0 183.0 624.4 183.0 624.9 C183.0 625.3 182.9 625.7 182.7 626.1 C182.6 626.5 182.3 627.0 182.1 627.4 C181.8 627.8 181.4 628.2 181.1 628.7 C180.8 629.1 180.4 629.5 180.1 630.0 C179.9 630.4 179.6 630.8 179.5 631.2 C179.3 631.6 179.2 632.1 179.2 632.5 C179.2 632.9 179.3 633.3 179.5 633.8 C179.6 634.2 179.9 634.6 180.2 635.1 C180.4 635.5 180.8 636.0 181.1 636.3 C181.4 636.7 181.7 637.1 181.8 637.2 M186.4 586.6 C186.4 586.8 186.5 587.5 186.7 587.9 C186.8 588.3 187.1 588.7 187.3 589.1 C187.6 589.6 188.0 590.0 188.3 590.4 C188.6 590.9 189.0 591.3 189.3 591.7 C189.5 592.1 189.8 592.6 189.9 593.0 C190.1 593.4 190.2 593.8 190.2 594.2 C190.2 594.7 190.1 595.1 189.9 595.5 C189.8 596.0 189.5 596.4 189.2 596.8 C189.0 597.2 188.6 597.7 188.3 598.1 C188.0 598.5 187.6 598.9 187.4 599.4 C187.1 599.8 186.8 600.2 186.7 600.6 C186.5 601.0 186.4 601.5 186.4 601.9 C186.4 602.3 186.5 602.8 186.7 603.2 C186.8 603.6 187.1 604.0 187.4 604.5 C187.6 604.9 188.0 605.3 188.3 605.7 C188.6 606.1 189.0 606.6 189.2 607.0 C189.5 607.4 189.8 607.8 189.9 608.3 C190.1 608.7 190.2 609.1 190.2 609.6 C190.2 610.0 190.1 610.4 189.9 610.8 C189.8 611.2 189.5 611.7 189.2 612.1 C189.0 612.5 188.6 613.0 188.3 613.4 C188.0 613.8 187.6 614.2 187.4 614.6 C187.1 615.1 186.8 615.5 186.7 615.9 C186.5 616.4 186.4 616.8 186.4 617.2 C186.4 617.6 186.5 618.1 186.7 618.5 C186.8 618.9 187.1 619.3 187.3 619.8 C187.6 620.2 188.0 620.6 188.3 621.0 C188.6 621.5 189.0 621.9 189.3 622.3 C189.5 622.7 189.8 623.2 189.9 623.6 C190.1 624.0 190.2 624.4 190.2 624.9 C190.2 625.3 190.1 625.7 189.9 626.1 C189.8 626.5 189.5 627.0 189.3 627.4 C189.0 627.8 188.6 628.2 188.3 628.7 C188.0 629.1 187.6 629.5 187.3 630.0 C187.1 630.4 186.8 630.8 186.7 631.2 C186.5 631.6 186.4 632.1 186.4 632.5 C186.4 632.9 186.5 633.3 186.7 633.8 C186.8 634.2 187.1 634.6 187.4 635.1 C187.6 635.5 188.0 636.0 188.3 636.3 C188.6 636.7 188.9 637.1 189.0 637.2 M193.6 586.6 C193.6 586.8 193.7 587.5 193.9 587.9 C194.0 588.3 194.3 588.7 194.5 589.1 C194.8 589.6 195.2 590.0 195.5 590.4 C195.8 590.9 196.2 591.3 196.5 591.7 C196.7 592.1 197.0 592.6 197.1 593.0 C197.3 593.4 197.4 593.8 197.4 594.2 C197.4 594.7 197.3 595.1 197.1 595.5 C197.0 596.0 196.7 596.4 196.4 596.8 C196.2 597.2 195.8 597.7 195.5 598.1 C195.2 598.5 194.8 598.9 194.6 599.4 C194.3 599.8 194.0 600.2 193.9 600.6 C193.7 601.0 193.6 601.5 193.6 601.9 C193.6 602.3 193.7 602.8 193.9 603.2 C194.0 603.6 194.3 604.0 194.6 604.5 C194.8 604.9 195.2 605.3 195.5 605.7 C195.8 606.1 196.2 606.6 196.4 607.0 C196.7 607.4 197.0 607.8 197.1 608.3 C197.3 608.7 197.4 609.1 197.4 609.6 C197.4 610.0 197.3 610.4 197.1 610.8 C197.0 611.2 196.7 611.7 196.4 612.1 C196.2 612.5 195.8 613.0 195.5 613.4 C195.2 613.8 194.8 614.2 194.6 614.6 C194.3 615.1 194.0 615.5 193.9 615.9 C193.7 616.4 193.6 616.8 193.6 617.2 C193.6 617.6 193.7 618.1 193.9 618.5 C194.0 618.9 194.3 619.3 194.5 619.8 C194.8 620.2 195.2 620.6 195.5 621.0 C195.8 621.5 196.2 621.9 196.5 622.3 C196.7 622.7 197.0 623.2 197.1 623.6 C197.3 624.0 197.4 624.4 197.4 624.9 C197.4 625.3 197.3 625.7 197.1 626.1 C197.0 626.5 196.7 627.0 196.5 627.4 C196.2 627.8 195.8 628.2 195.5 628.7 C195.2 629.1 194.8 629.5 194.5 630.0 C194.3 630.4 194.0 630.8 193.9 631.2 C193.7 631.6 193.6 632.1 193.6 632.5 C193.6 632.9 193.7 633.3 193.9 633.8 C194.0 634.2 194.3 634.6 194.6 635.1 C194.8 635.5 195.2 636.0 195.5 636.3 C195.8 636.7 196.1 637.1 196.2 637.2 M200.8 586.6 C200.8 586.8 200.9 587.5 201.1 587.9 C201.2 588.3 201.5 588.7 201.7 589.1 C202.0 589.6 202.4 590.0 202.7 590.4 C203.0 590.9 203.4 591.3 203.7 591.7 C203.9 592.1 204.2 592.6 204.3 593.0 C204.5 593.4 204.6 593.8 204.6 594.2 C204.6 594.7 204.5 595.1 204.3 595.5 C204.2 596.0 203.9 596.4 203.6 596.8 C203.4 597.2 203.0 597.7 202.7 598.1 C202.4 598.5 202.0 598.9 201.8 599.4 C201.5 599.8 201.2 600.2 201.1 600.6 C200.9 601.0 200.8 601.5 200.8 601.9 C200.8 602.3 200.9 602.8 201.1 603.2 C201.2 603.6 201.5 604.0 201.8 604.5 C202.0 604.9 202.4 605.3 202.7 605.7 C203.0 606.1 203.4 606.6 203.6 607.0 C203.9 607.4 204.2 607.8 204.3 608.3 C204.5 608.7 204.6 609.1 204.6 609.6 C204.6 610.0 204.5 610.4 204.3 610.8 C204.2 611.2 203.9 611.7 203.6 612.1 C203.4 612.5 203.0 613.0 202.7 613.4 C202.4 613.8 202.0 614.2 201.8 614.6 C201.5 615.1 201.2 615.5 201.1 615.9 C200.9 616.4 200.8 616.8 200.8 617.2 C200.8 617.6 200.9 618.1 201.1 618.5 C201.2 618.9 201.5 619.3 201.7 619.8 C202.0 620.2 202.4 620.6 202.7 621.0 C203.0 621.5 203.4 621.9 203.7 622.3 C203.9 622.7 204.2 623.2 204.3 623.6 C204.5 624.0 204.6 624.4 204.6 624.9 C204.6 625.3 204.5 625.7 204.3 626.1 C204.2 626.5 203.9 627.0 203.7 627.4 C203.4 627.8 203.0 628.2 202.7 628.7 C202.4 629.1 202.0 629.5 201.7 630.0 C201.5 630.4 201.2 630.8 201.1 631.2 C200.9 631.6 200.8 632.1 200.8 632.5 C200.8 632.9 200.9 633.3 201.1 633.8 C201.2 634.2 201.5 634.6 201.8 635.1 C202.0 635.5 202.4 636.0 202.7 636.3 C203.0 636.7 203.3 637.1 203.4 637.2 M133.2 605.6 C133.2 605.8 133.3 606.5 133.4 606.9 C133.6 607.3 133.8 607.8 134.1 608.2 C134.4 608.6 134.7 609.0 135.0 609.5 C135.3 609.9 135.6 610.3 135.9 610.8 C136.2 611.2 136.4 611.6 136.6 612.1 C136.7 612.5 136.8 612.9 136.8 613.4 C136.8 613.8 136.7 614.2 136.6 614.6 C136.4 615.1 136.2 615.5 135.9 615.9 C135.6 616.4 135.3 616.8 135.0 617.2 C134.7 617.7 134.4 618.1 134.1 618.5 C133.8 618.9 133.6 619.4 133.4 619.8 C133.3 620.2 133.2 620.7 133.2 621.1 C133.2 621.5 133.3 622.0 133.4 622.4 C133.6 622.8 133.8 623.3 134.1 623.7 C134.4 624.1 134.8 624.8 135.0 625.0 M140.8 605.6 C140.8 605.8 140.9 606.5 141.0 606.9 C141.2 607.3 141.4 607.8 141.7 608.2 C142.0 608.6 142.3 609.0 142.6 609.5 C142.9 609.9 143.2 610.3 143.5 610.8 C143.8 611.2 144.0 611.6 144.2 612.1 C144.3 612.5 144.4 612.9 144.4 613.4 C144.4 613.8 144.3 614.2 144.2 614.6 C144.0 615.1 143.8 615.5 143.5 615.9 C143.2 616.4 142.9 616.8 142.6 617.2 C142.3 617.7 142.0 618.1 141.7 618.5 C141.4 618.9 141.2 619.4 141.0 619.8 C140.9 620.2 140.8 620.7 140.8 621.1 C140.8 621.5 140.9 622.0 141.0 622.4 C141.2 622.8 141.4 623.3 141.7 623.7 C142.0 624.1 142.4 624.8 142.6 625.0 M148.4 605.6 C148.4 605.8 148.5 606.5 148.6 606.9 C148.8 607.3 149.0 607.8 149.3 608.2 C149.6 608.6 149.9 609.0 150.2 609.5 C150.5 609.9 150.8 610.3 151.1 610.8 C151.4 611.2 151.6 611.6 151.8 612.1 C151.9 612.5 152.0 612.9 152.0 613.4 C152.0 613.8 151.9 614.2 151.8 614.6 C151.6 615.1 151.4 615.5 151.1 615.9 C150.8 616.4 150.5 616.8 150.2 617.2 C149.9 617.7 149.6 618.1 149.3 618.5 C149.0 618.9 148.8 619.4 148.6 619.8 C148.5 620.2 148.4 620.7 148.4 621.1 C148.4 621.5 148.5 622.0 148.6 622.4 C148.8 622.8 149.0 623.3 149.3 623.7 C149.6 624.1 150.0 624.8 150.2 625.0 M122.2 597.0 C122.2 597.2 122.3 597.9 122.4 598.3 C122.6 598.7 122.8 599.2 123.1 599.6 C123.4 600.0 123.7 600.4 124.0 600.9 C124.3 601.3 124.6 601.7 124.9 602.2 C125.2 602.6 125.4 603.0 125.6 603.5 C125.7 603.9 125.8 604.3 125.8 604.8 C125.8 605.2 125.7 605.6 125.6 606.0 C125.4 606.5 125.2 606.9 124.9 607.3 C124.6 607.8 124.3 608.2 124.0 608.6 C123.7 609.1 123.4 609.5 123.1 609.9 C122.8 610.3 122.6 610.8 122.4 611.2 C122.3 611.6 122.2 612.1 122.2 612.5 C122.2 612.9 122.3 613.4 122.4 613.8 C122.6 614.2 122.8 614.7 123.1 615.1 C123.4 615.5 123.7 615.9 124.0 616.4 C124.3 616.8 124.6 617.2 124.9 617.7 C125.2 618.1 125.4 618.5 125.6 619.0 C125.7 619.4 125.8 619.8 125.8 620.2 C125.8 620.7 125.7 621.1 125.6 621.5 C125.4 622.0 125.2 622.4 124.9 622.8 C124.6 623.3 124.3 623.7 124.0 624.1 C123.7 624.6 123.4 625.0 123.1 625.4 C122.8 625.8 122.6 626.3 122.4 626.7 C122.3 627.1 122.2 627.6 122.2 628.0 C122.2 628.4 122.3 628.9 122.4 629.3 C122.6 629.7 122.8 630.2 123.1 630.6 C123.4 631.0 123.7 631.4 124.0 631.9 C124.3 632.3 124.7 633.0 124.9 633.2" fill="none" stroke="#EFCC8C" stroke-width="1.65"/>
<path d="M120.5 612.4 L120.5 612.4 L122.5 612.6 L124.5 613.1 L126.5 614.0 L128.5 615.1 L130.5 616.3 L132.5 617.4 L134.5 618.2 L136.5 618.7 L138.5 618.8 L140.5 618.4 L142.5 617.7 L144.5 616.7 L146.5 615.6 L148.5 614.4 L150.5 613.4 L152.5 612.7 L154.5 612.4 L156.5 612.5 L158.5 613.0 L160.5 613.9 L162.5 615.0 L164.5 616.1 L166.5 617.2 L168.5 618.1 L170.5 618.7 L172.5 618.8 L174.5 618.5 L176.5 617.8 L178.5 616.9 L180.5 615.7 L182.5 614.6 L184.5 613.6 L186.5 612.8 L188.5 612.4 L190.5 612.5 L192.5 612.9 L194.5 613.7 L196.5 614.8 L198.5 616.0 L200.5 617.1 L202.5 618.0 L204.5 618.6 L206.5 618.8 L208.5 618.6 L210.5 618.0 L212.5 617.0 L214.5 615.9 L216.5 614.7 L218.5 613.7 L220.5 612.9 L222.5 612.5 L224.5 612.4 L226.5 612.8 L226 612.7 L226 650 Q225 657 214 657 L143.8 657 L143.8 634.7 L120.5 634.7 Z" fill="#A8C6F6"/>
<path d="M120.2 595.7 H143.8 V556.7 H149 M159.2 556.7 H169.6 M179.8 556.7 H190.8 M201 556.7 H211.4 M221.4 556.7 H225.6 L225 646 Q224.5 657 213 657 H143.8 V634.7 H120.2" fill="none" stroke="#2b2e30" stroke-width="1.6"/>
<path d="M135 604.8 H152.7 V582.7 H209.3 V640.2 H195.0 V618 M167.1 618 V640.2 H152.7 V626 H135" fill="none" stroke="#2b2e30" stroke-width="1.6"/>
<circle cx="181.05" cy="615.6" r="13.3" fill="#0F9A3C" stroke="#2b2e30" stroke-width="1.6"/>
<rect x="128.7" y="591.9" width="6.9" height="47.1" rx="3.45" fill="#2b2e30"/>
<path d="M154.9 540.3 C156.1 542.8 159.1 545.3 159.1 547.6 A4.2 4.2 0 0 1 150.7 547.6 C150.7 545.3 153.7 542.8 154.9 540.3 Z" fill="#A3C1F4"/>
<path d="M175.4 540.3 C176.6 542.8 179.6 545.3 179.6 547.6 A4.2 4.2 0 0 1 171.2 547.6 C171.2 545.3 174.2 542.8 175.4 540.3 Z" fill="#A3C1F4"/>
<path d="M195.8 540.3 C197.0 542.8 200.0 545.3 200.0 547.6 A4.2 4.2 0 0 1 191.6 547.6 C191.6 545.3 194.6 542.8 195.8 540.3 Z" fill="#A3C1F4"/>
<path d="M216.2 540.3 C217.4 542.8 220.4 545.3 220.4 547.6 A4.2 4.2 0 0 1 212.0 547.6 C212.0 545.3 215.0 542.8 216.2 540.3 Z" fill="#A3C1F4"/>
<path d="M154.9 563.9 C156.1 566.4 159.1 568.9 159.1 571.2 A4.2 4.2 0 0 1 150.7 571.2 C150.7 568.9 153.7 566.4 154.9 563.9 Z" fill="#A3C1F4"/>
<path d="M175.4 563.9 C176.6 566.4 179.6 568.9 179.6 571.2 A4.2 4.2 0 0 1 171.2 571.2 C171.2 568.9 174.2 566.4 175.4 563.9 Z" fill="#A3C1F4"/>
<path d="M195.8 563.9 C197.0 566.4 200.0 568.9 200.0 571.2 A4.2 4.2 0 0 1 191.6 571.2 C191.6 568.9 194.6 566.4 195.8 563.9 Z" fill="#A3C1F4"/>
<path d="M216.2 563.9 C217.4 566.4 220.4 568.9 220.4 571.2 A4.2 4.2 0 0 1 212.0 571.2 C212.0 568.9 215.0 566.4 216.2 563.9 Z" fill="#A3C1F4"/>
</g>
<g transform="translate(353.2 0)">
<path d="M157.6 586.6 C157.6 586.8 157.7 587.5 157.9 587.9 C158.0 588.3 158.3 588.7 158.5 589.1 C158.8 589.6 159.2 590.0 159.5 590.4 C159.8 590.9 160.2 591.3 160.5 591.7 C160.7 592.1 161.0 592.6 161.1 593.0 C161.3 593.4 161.4 593.8 161.4 594.2 C161.4 594.7 161.3 595.1 161.1 595.5 C161.0 596.0 160.7 596.4 160.4 596.8 C160.2 597.2 159.8 597.7 159.5 598.1 C159.2 598.5 158.8 598.9 158.6 599.4 C158.3 599.8 158.0 600.2 157.9 600.6 C157.7 601.0 157.6 601.5 157.6 601.9 C157.6 602.3 157.7 602.8 157.9 603.2 C158.0 603.6 158.3 604.0 158.6 604.5 C158.8 604.9 159.2 605.3 159.5 605.7 C159.8 606.1 160.2 606.6 160.4 607.0 C160.7 607.4 161.0 607.8 161.1 608.3 C161.3 608.7 161.4 609.1 161.4 609.6 C161.4 610.0 161.3 610.4 161.1 610.8 C161.0 611.2 160.7 611.7 160.4 612.1 C160.2 612.5 159.8 613.0 159.5 613.4 C159.2 613.8 158.8 614.2 158.6 614.6 C158.3 615.1 158.0 615.5 157.9 615.9 C157.7 616.4 157.6 616.8 157.6 617.2 C157.6 617.6 157.7 618.1 157.9 618.5 C158.0 618.9 158.3 619.3 158.5 619.8 C158.8 620.2 159.2 620.6 159.5 621.0 C159.8 621.5 160.2 621.9 160.5 622.3 C160.7 622.7 161.0 623.2 161.1 623.6 C161.3 624.0 161.4 624.4 161.4 624.9 C161.4 625.3 161.3 625.7 161.1 626.1 C161.0 626.5 160.7 627.0 160.5 627.4 C160.2 627.8 159.8 628.2 159.5 628.7 C159.2 629.1 158.8 629.5 158.5 630.0 C158.3 630.4 158.0 630.8 157.9 631.2 C157.7 631.6 157.6 632.1 157.6 632.5 C157.6 632.9 157.7 633.3 157.9 633.8 C158.0 634.2 158.3 634.6 158.6 635.1 C158.8 635.5 159.2 636.0 159.5 636.3 C159.8 636.7 160.1 637.1 160.2 637.2 M164.8 586.6 C164.8 586.8 164.9 587.5 165.1 587.9 C165.2 588.3 165.5 588.7 165.7 589.1 C166.0 589.6 166.4 590.0 166.7 590.4 C167.0 590.9 167.4 591.3 167.7 591.7 C167.9 592.1 168.2 592.6 168.3 593.0 C168.5 593.4 168.6 593.8 168.6 594.2 C168.6 594.7 168.5 595.1 168.3 595.5 C168.2 596.0 167.9 596.4 167.6 596.8 C167.4 597.2 167.0 597.7 166.7 598.1 C166.4 598.5 166.0 598.9 165.8 599.4 C165.5 599.8 165.2 600.2 165.1 600.6 C164.9 601.0 164.8 601.5 164.8 601.9 C164.8 602.3 164.9 602.8 165.1 603.2 C165.2 603.6 165.5 604.0 165.8 604.5 C166.0 604.9 166.4 605.3 166.7 605.7 C167.0 606.1 167.4 606.6 167.6 607.0 C167.9 607.4 168.2 607.8 168.3 608.3 C168.5 608.7 168.6 609.1 168.6 609.6 C168.6 610.0 168.5 610.4 168.3 610.8 C168.2 611.2 167.9 611.7 167.6 612.1 C167.4 612.5 167.0 613.0 166.7 613.4 C166.4 613.8 166.0 614.2 165.8 614.6 C165.5 615.1 165.2 615.5 165.1 615.9 C164.9 616.4 164.8 616.8 164.8 617.2 C164.8 617.6 164.9 618.1 165.1 618.5 C165.2 618.9 165.5 619.3 165.7 619.8 C166.0 620.2 166.4 620.6 166.7 621.0 C167.0 621.5 167.4 621.9 167.7 622.3 C167.9 622.7 168.2 623.2 168.3 623.6 C168.5 624.0 168.6 624.4 168.6 624.9 C168.6 625.3 168.5 625.7 168.3 626.1 C168.2 626.5 167.9 627.0 167.7 627.4 C167.4 627.8 167.0 628.2 166.7 628.7 C166.4 629.1 166.0 629.5 165.7 630.0 C165.5 630.4 165.2 630.8 165.1 631.2 C164.9 631.6 164.8 632.1 164.8 632.5 C164.8 632.9 164.9 633.3 165.1 633.8 C165.2 634.2 165.5 634.6 165.8 635.1 C166.0 635.5 166.4 636.0 166.7 636.3 C167.0 636.7 167.3 637.1 167.4 637.2 M172.0 586.6 C172.0 586.8 172.1 587.5 172.3 587.9 C172.4 588.3 172.7 588.7 172.9 589.1 C173.2 589.6 173.6 590.0 173.9 590.4 C174.2 590.9 174.6 591.3 174.9 591.7 C175.1 592.1 175.4 592.6 175.5 593.0 C175.7 593.4 175.8 593.8 175.8 594.2 C175.8 594.7 175.7 595.1 175.5 595.5 C175.4 596.0 175.1 596.4 174.8 596.8 C174.6 597.2 174.2 597.7 173.9 598.1 C173.6 598.5 173.2 598.9 173.0 599.4 C172.7 599.8 172.4 600.2 172.3 600.6 C172.1 601.0 172.0 601.5 172.0 601.9 C172.0 602.3 172.1 602.8 172.3 603.2 C172.4 603.6 172.7 604.0 173.0 604.5 C173.2 604.9 173.6 605.3 173.9 605.7 C174.2 606.1 174.6 606.6 174.8 607.0 C175.1 607.4 175.4 607.8 175.5 608.3 C175.7 608.7 175.8 609.1 175.8 609.6 C175.8 610.0 175.7 610.4 175.5 610.8 C175.4 611.2 175.1 611.7 174.8 612.1 C174.6 612.5 174.2 613.0 173.9 613.4 C173.6 613.8 173.2 614.2 173.0 614.6 C172.7 615.1 172.4 615.5 172.3 615.9 C172.1 616.4 172.0 616.8 172.0 617.2 C172.0 617.6 172.1 618.1 172.3 618.5 C172.4 618.9 172.7 619.3 172.9 619.8 C173.2 620.2 173.6 620.6 173.9 621.0 C174.2 621.5 174.6 621.9 174.9 622.3 C175.1 622.7 175.4 623.2 175.5 623.6 C175.7 624.0 175.8 624.4 175.8 624.9 C175.8 625.3 175.7 625.7 175.5 626.1 C175.4 626.5 175.1 627.0 174.9 627.4 C174.6 627.8 174.2 628.2 173.9 628.7 C173.6 629.1 173.2 629.5 172.9 630.0 C172.7 630.4 172.4 630.8 172.3 631.2 C172.1 631.6 172.0 632.1 172.0 632.5 C172.0 632.9 172.1 633.3 172.3 633.8 C172.4 634.2 172.7 634.6 173.0 635.1 C173.2 635.5 173.6 636.0 173.9 636.3 C174.2 636.7 174.5 637.1 174.6 637.2 M179.2 586.6 C179.2 586.8 179.3 587.5 179.5 587.9 C179.6 588.3 179.9 588.7 180.1 589.1 C180.4 589.6 180.8 590.0 181.1 590.4 C181.4 590.9 181.8 591.3 182.1 591.7 C182.3 592.1 182.6 592.6 182.7 593.0 C182.9 593.4 183.0 593.8 183.0 594.2 C183.0 594.7 182.9 595.1 182.7 595.5 C182.6 596.0 182.3 596.4 182.0 596.8 C181.8 597.2 181.4 597.7 181.1 598.1 C180.8 598.5 180.4 598.9 180.2 599.4 C179.9 599.8 179.6 600.2 179.5 600.6 C179.3 601.0 179.2 601.5 179.2 601.9 C179.2 602.3 179.3 602.8 179.5 603.2 C179.6 603.6 179.9 604.0 180.2 604.5 C180.4 604.9 180.8 605.3 181.1 605.7 C181.4 606.1 181.8 606.6 182.0 607.0 C182.3 607.4 182.6 607.8 182.7 608.3 C182.9 608.7 183.0 609.1 183.0 609.6 C183.0 610.0 182.9 610.4 182.7 610.8 C182.6 611.2 182.3 611.7 182.0 612.1 C181.8 612.5 181.4 613.0 181.1 613.4 C180.8 613.8 180.4 614.2 180.2 614.6 C179.9 615.1 179.6 615.5 179.5 615.9 C179.3 616.4 179.2 616.8 179.2 617.2 C179.2 617.6 179.3 618.1 179.5 618.5 C179.6 618.9 179.9 619.3 180.1 619.8 C180.4 620.2 180.8 620.6 181.1 621.0 C181.4 621.5 181.8 621.9 182.1 622.3 C182.3 622.7 182.6 623.2 182.7 623.6 C182.9 624.0 183.0 624.4 183.0 624.9 C183.0 625.3 182.9 625.7 182.7 626.1 C182.6 626.5 182.3 627.0 182.1 627.4 C181.8 627.8 181.4 628.2 181.1 628.7 C180.8 629.1 180.4 629.5 180.1 630.0 C179.9 630.4 179.6 630.8 179.5 631.2 C179.3 631.6 179.2 632.1 179.2 632.5 C179.2 632.9 179.3 633.3 179.5 633.8 C179.6 634.2 179.9 634.6 180.2 635.1 C180.4 635.5 180.8 636.0 181.1 636.3 C181.4 636.7 181.7 637.1 181.8 637.2 M186.4 586.6 C186.4 586.8 186.5 587.5 186.7 587.9 C186.8 588.3 187.1 588.7 187.3 589.1 C187.6 589.6 188.0 590.0 188.3 590.4 C188.6 590.9 189.0 591.3 189.3 591.7 C189.5 592.1 189.8 592.6 189.9 593.0 C190.1 593.4 190.2 593.8 190.2 594.2 C190.2 594.7 190.1 595.1 189.9 595.5 C189.8 596.0 189.5 596.4 189.2 596.8 C189.0 597.2 188.6 597.7 188.3 598.1 C188.0 598.5 187.6 598.9 187.4 599.4 C187.1 599.8 186.8 600.2 186.7 600.6 C186.5 601.0 186.4 601.5 186.4 601.9 C186.4 602.3 186.5 602.8 186.7 603.2 C186.8 603.6 187.1 604.0 187.4 604.5 C187.6 604.9 188.0 605.3 188.3 605.7 C188.6 606.1 189.0 606.6 189.2 607.0 C189.5 607.4 189.8 607.8 189.9 608.3 C190.1 608.7 190.2 609.1 190.2 609.6 C190.2 610.0 190.1 610.4 189.9 610.8 C189.8 611.2 189.5 611.7 189.2 612.1 C189.0 612.5 188.6 613.0 188.3 613.4 C188.0 613.8 187.6 614.2 187.4 614.6 C187.1 615.1 186.8 615.5 186.7 615.9 C186.5 616.4 186.4 616.8 186.4 617.2 C186.4 617.6 186.5 618.1 186.7 618.5 C186.8 618.9 187.1 619.3 187.3 619.8 C187.6 620.2 188.0 620.6 188.3 621.0 C188.6 621.5 189.0 621.9 189.3 622.3 C189.5 622.7 189.8 623.2 189.9 623.6 C190.1 624.0 190.2 624.4 190.2 624.9 C190.2 625.3 190.1 625.7 189.9 626.1 C189.8 626.5 189.5 627.0 189.3 627.4 C189.0 627.8 188.6 628.2 188.3 628.7 C188.0 629.1 187.6 629.5 187.3 630.0 C187.1 630.4 186.8 630.8 186.7 631.2 C186.5 631.6 186.4 632.1 186.4 632.5 C186.4 632.9 186.5 633.3 186.7 633.8 C186.8 634.2 187.1 634.6 187.4 635.1 C187.6 635.5 188.0 636.0 188.3 636.3 C188.6 636.7 188.9 637.1 189.0 637.2 M193.6 586.6 C193.6 586.8 193.7 587.5 193.9 587.9 C194.0 588.3 194.3 588.7 194.5 589.1 C194.8 589.6 195.2 590.0 195.5 590.4 C195.8 590.9 196.2 591.3 196.5 591.7 C196.7 592.1 197.0 592.6 197.1 593.0 C197.3 593.4 197.4 593.8 197.4 594.2 C197.4 594.7 197.3 595.1 197.1 595.5 C197.0 596.0 196.7 596.4 196.4 596.8 C196.2 597.2 195.8 597.7 195.5 598.1 C195.2 598.5 194.8 598.9 194.6 599.4 C194.3 599.8 194.0 600.2 193.9 600.6 C193.7 601.0 193.6 601.5 193.6 601.9 C193.6 602.3 193.7 602.8 193.9 603.2 C194.0 603.6 194.3 604.0 194.6 604.5 C194.8 604.9 195.2 605.3 195.5 605.7 C195.8 606.1 196.2 606.6 196.4 607.0 C196.7 607.4 197.0 607.8 197.1 608.3 C197.3 608.7 197.4 609.1 197.4 609.6 C197.4 610.0 197.3 610.4 197.1 610.8 C197.0 611.2 196.7 611.7 196.4 612.1 C196.2 612.5 195.8 613.0 195.5 613.4 C195.2 613.8 194.8 614.2 194.6 614.6 C194.3 615.1 194.0 615.5 193.9 615.9 C193.7 616.4 193.6 616.8 193.6 617.2 C193.6 617.6 193.7 618.1 193.9 618.5 C194.0 618.9 194.3 619.3 194.5 619.8 C194.8 620.2 195.2 620.6 195.5 621.0 C195.8 621.5 196.2 621.9 196.5 622.3 C196.7 622.7 197.0 623.2 197.1 623.6 C197.3 624.0 197.4 624.4 197.4 624.9 C197.4 625.3 197.3 625.7 197.1 626.1 C197.0 626.5 196.7 627.0 196.5 627.4 C196.2 627.8 195.8 628.2 195.5 628.7 C195.2 629.1 194.8 629.5 194.5 630.0 C194.3 630.4 194.0 630.8 193.9 631.2 C193.7 631.6 193.6 632.1 193.6 632.5 C193.6 632.9 193.7 633.3 193.9 633.8 C194.0 634.2 194.3 634.6 194.6 635.1 C194.8 635.5 195.2 636.0 195.5 636.3 C195.8 636.7 196.1 637.1 196.2 637.2 M200.8 586.6 C200.8 586.8 200.9 587.5 201.1 587.9 C201.2 588.3 201.5 588.7 201.7 589.1 C202.0 589.6 202.4 590.0 202.7 590.4 C203.0 590.9 203.4 591.3 203.7 591.7 C203.9 592.1 204.2 592.6 204.3 593.0 C204.5 593.4 204.6 593.8 204.6 594.2 C204.6 594.7 204.5 595.1 204.3 595.5 C204.2 596.0 203.9 596.4 203.6 596.8 C203.4 597.2 203.0 597.7 202.7 598.1 C202.4 598.5 202.0 598.9 201.8 599.4 C201.5 599.8 201.2 600.2 201.1 600.6 C200.9 601.0 200.8 601.5 200.8 601.9 C200.8 602.3 200.9 602.8 201.1 603.2 C201.2 603.6 201.5 604.0 201.8 604.5 C202.0 604.9 202.4 605.3 202.7 605.7 C203.0 606.1 203.4 606.6 203.6 607.0 C203.9 607.4 204.2 607.8 204.3 608.3 C204.5 608.7 204.6 609.1 204.6 609.6 C204.6 610.0 204.5 610.4 204.3 610.8 C204.2 611.2 203.9 611.7 203.6 612.1 C203.4 612.5 203.0 613.0 202.7 613.4 C202.4 613.8 202.0 614.2 201.8 614.6 C201.5 615.1 201.2 615.5 201.1 615.9 C200.9 616.4 200.8 616.8 200.8 617.2 C200.8 617.6 200.9 618.1 201.1 618.5 C201.2 618.9 201.5 619.3 201.7 619.8 C202.0 620.2 202.4 620.6 202.7 621.0 C203.0 621.5 203.4 621.9 203.7 622.3 C203.9 622.7 204.2 623.2 204.3 623.6 C204.5 624.0 204.6 624.4 204.6 624.9 C204.6 625.3 204.5 625.7 204.3 626.1 C204.2 626.5 203.9 627.0 203.7 627.4 C203.4 627.8 203.0 628.2 202.7 628.7 C202.4 629.1 202.0 629.5 201.7 630.0 C201.5 630.4 201.2 630.8 201.1 631.2 C200.9 631.6 200.8 632.1 200.8 632.5 C200.8 632.9 200.9 633.3 201.1 633.8 C201.2 634.2 201.5 634.6 201.8 635.1 C202.0 635.5 202.4 636.0 202.7 636.3 C203.0 636.7 203.3 637.1 203.4 637.2 M133.2 605.6 C133.2 605.8 133.3 606.5 133.4 606.9 C133.6 607.3 133.8 607.8 134.1 608.2 C134.4 608.6 134.7 609.0 135.0 609.5 C135.3 609.9 135.6 610.3 135.9 610.8 C136.2 611.2 136.4 611.6 136.6 612.1 C136.7 612.5 136.8 612.9 136.8 613.4 C136.8 613.8 136.7 614.2 136.6 614.6 C136.4 615.1 136.2 615.5 135.9 615.9 C135.6 616.4 135.3 616.8 135.0 617.2 C134.7 617.7 134.4 618.1 134.1 618.5 C133.8 618.9 133.6 619.4 133.4 619.8 C133.3 620.2 133.2 620.7 133.2 621.1 C133.2 621.5 133.3 622.0 133.4 622.4 C133.6 622.8 133.8 623.3 134.1 623.7 C134.4 624.1 134.8 624.8 135.0 625.0 M140.8 605.6 C140.8 605.8 140.9 606.5 141.0 606.9 C141.2 607.3 141.4 607.8 141.7 608.2 C142.0 608.6 142.3 609.0 142.6 609.5 C142.9 609.9 143.2 610.3 143.5 610.8 C143.8 611.2 144.0 611.6 144.2 612.1 C144.3 612.5 144.4 612.9 144.4 613.4 C144.4 613.8 144.3 614.2 144.2 614.6 C144.0 615.1 143.8 615.5 143.5 615.9 C143.2 616.4 142.9 616.8 142.6 617.2 C142.3 617.7 142.0 618.1 141.7 618.5 C141.4 618.9 141.2 619.4 141.0 619.8 C140.9 620.2 140.8 620.7 140.8 621.1 C140.8 621.5 140.9 622.0 141.0 622.4 C141.2 622.8 141.4 623.3 141.7 623.7 C142.0 624.1 142.4 624.8 142.6 625.0 M148.4 605.6 C148.4 605.8 148.5 606.5 148.6 606.9 C148.8 607.3 149.0 607.8 149.3 608.2 C149.6 608.6 149.9 609.0 150.2 609.5 C150.5 609.9 150.8 610.3 151.1 610.8 C151.4 611.2 151.6 611.6 151.8 612.1 C151.9 612.5 152.0 612.9 152.0 613.4 C152.0 613.8 151.9 614.2 151.8 614.6 C151.6 615.1 151.4 615.5 151.1 615.9 C150.8 616.4 150.5 616.8 150.2 617.2 C149.9 617.7 149.6 618.1 149.3 618.5 C149.0 618.9 148.8 619.4 148.6 619.8 C148.5 620.2 148.4 620.7 148.4 621.1 C148.4 621.5 148.5 622.0 148.6 622.4 C148.8 622.8 149.0 623.3 149.3 623.7 C149.6 624.1 150.0 624.8 150.2 625.0 M122.2 597.0 C122.2 597.2 122.3 597.9 122.4 598.3 C122.6 598.7 122.8 599.2 123.1 599.6 C123.4 600.0 123.7 600.4 124.0 600.9 C124.3 601.3 124.6 601.7 124.9 602.2 C125.2 602.6 125.4 603.0 125.6 603.5 C125.7 603.9 125.8 604.3 125.8 604.8 C125.8 605.2 125.7 605.6 125.6 606.0 C125.4 606.5 125.2 606.9 124.9 607.3 C124.6 607.8 124.3 608.2 124.0 608.6 C123.7 609.1 123.4 609.5 123.1 609.9 C122.8 610.3 122.6 610.8 122.4 611.2 C122.3 611.6 122.2 612.1 122.2 612.5 C122.2 612.9 122.3 613.4 122.4 613.8 C122.6 614.2 122.8 614.7 123.1 615.1 C123.4 615.5 123.7 615.9 124.0 616.4 C124.3 616.8 124.6 617.2 124.9 617.7 C125.2 618.1 125.4 618.5 125.6 619.0 C125.7 619.4 125.8 619.8 125.8 620.2 C125.8 620.7 125.7 621.1 125.6 621.5 C125.4 622.0 125.2 622.4 124.9 622.8 C124.6 623.3 124.3 623.7 124.0 624.1 C123.7 624.6 123.4 625.0 123.1 625.4 C122.8 625.8 122.6 626.3 122.4 626.7 C122.3 627.1 122.2 627.6 122.2 628.0 C122.2 628.4 122.3 628.9 122.4 629.3 C122.6 629.7 122.8 630.2 123.1 630.6 C123.4 631.0 123.7 631.4 124.0 631.9 C124.3 632.3 124.7 633.0 124.9 633.2" fill="none" stroke="#EFCC8C" stroke-width="1.65"/>
<path d="M120.5 615.8 L120.5 615.8 L122.5 616.0 L124.5 616.5 L126.5 617.4 L128.5 618.5 L130.5 619.7 L132.5 620.8 L134.5 621.6 L136.5 622.1 L138.5 622.2 L140.5 621.8 L142.5 621.1 L144.5 620.1 L146.5 619.0 L148.5 617.8 L150.5 616.8 L152.5 616.1 L154.5 615.8 L156.5 615.9 L158.5 616.4 L160.5 617.3 L162.5 618.4 L164.5 619.5 L166.5 620.6 L168.5 621.5 L170.5 622.1 L172.5 622.2 L174.5 621.9 L176.5 621.2 L178.5 620.3 L180.5 619.1 L182.5 618.0 L184.5 617.0 L186.5 616.2 L188.5 615.8 L190.5 615.9 L192.5 616.3 L194.5 617.1 L196.5 618.2 L198.5 619.4 L200.5 620.5 L202.5 621.4 L204.5 622.0 L206.5 622.2 L208.5 622.0 L210.5 621.4 L212.5 620.4 L214.5 619.3 L216.5 618.1 L218.5 617.1 L220.5 616.3 L222.5 615.9 L224.5 615.8 L226.5 616.2 L226 616.1 L226 650 Q225 657 214 657 L143.8 657 L143.8 634.7 L120.5 634.7 Z" fill="#A8C6F6"/>
<path d="M120.2 595.7 H143.8 V556.7 H149 M159.2 556.7 H169.6 M179.8 556.7 H190.8 M201 556.7 H211.4 M221.4 556.7 H225.6 L225 646 Q224.5 657 213 657 H143.8 V634.7 H120.2" fill="none" stroke="#2b2e30" stroke-width="1.6"/>
<path d="M135 604.8 H152.7 V582.7 H209.3 V640.2 H195.0 V618 M167.1 618 V640.2 H152.7 V626 H135" fill="none" stroke="#2b2e30" stroke-width="1.6"/>
<circle cx="181.05" cy="622.0" r="13.3" fill="#0F9A3C" stroke="#2b2e30" stroke-width="1.6"/>
<rect x="128.7" y="591.9" width="6.9" height="47.1" rx="3.45" fill="#2b2e30"/>
</g>
</svg>
<div class="para" style="top:460.5px;">Комбинированный затвор защищает от неприятного запаха даже</div>
<div class="para" style="top:485.5px;">после испарения воды. Лоток легко снимается и промывается.</div>
<div class="lbl" style="left:542.5px;top:195.7px;width:100px;">НЕ ПРОПУСКАЕТ<br>ЗАПАХИ</div>
<div class="lbl" style="left:542.5px;top:316px;width:100px;">ВЫСОТА<br>ГИДРОЗАТВОРА<br>20 ММ</div>
</body></html>
